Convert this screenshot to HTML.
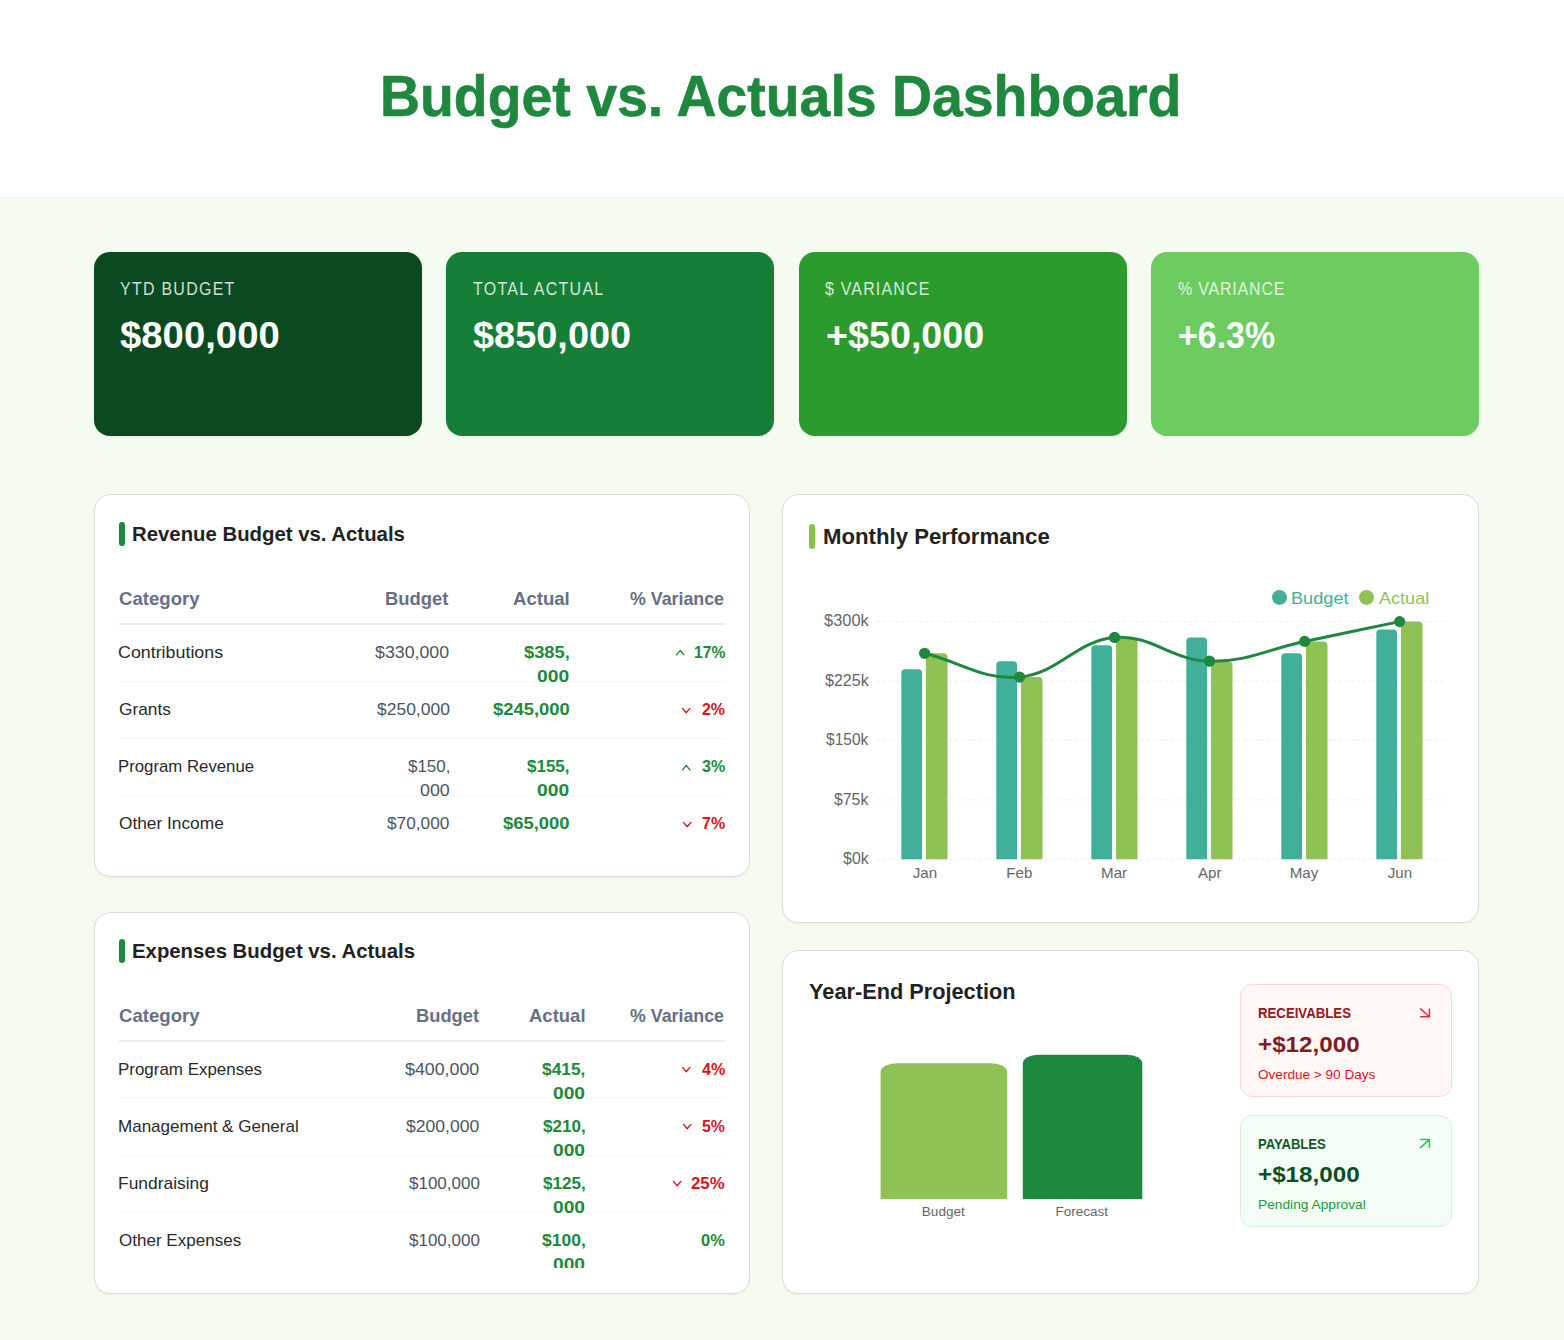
<!DOCTYPE html>
<html><head><meta charset="utf-8"><title>Budget vs. Actuals Dashboard</title>
<style>
html,body{margin:0;padding:0;width:1564px;height:1340px;overflow:hidden;background:#f6fbf1}
body{position:relative;font-family:"Liberation Sans",sans-serif}
.t{position:absolute;white-space:nowrap;line-height:0}
.b{position:absolute}
</style></head><body>
<div class="b" style="left:0.00px;top:0.00px;width:1564.00px;height:196.00px;background:#ffffff"></div>
<div class="b" style="left:0.00px;top:196.00px;width:1564.00px;height:1144.00px;background:#f6fbf1"></div>
<div class="t" style="left:380.19px;top:97.00px;font-size:56.69px;color:#1e883e;font-weight:bold;transform:scaleX(0.9772);transform-origin:0 0;-webkit-text-stroke:0.6px #1e883e;">Budget vs. Actuals Dashboard</div>
<div class="b" style="left:94.00px;top:251.90px;width:327.70px;height:183.90px;background:#0b4a20;border-radius:16px;box-shadow:0 1px 3px rgba(0,0,0,0.06)"></div>
<div class="t" style="left:120.25px;top:289.00px;font-size:18.17px;letter-spacing:1.436px;color:rgba(255,255,255,0.82);font-weight:normal;transform:scaleX(0.8800);transform-origin:0 0;">YTD BUDGET</div>
<div class="t" style="left:120.39px;top:336.00px;font-size:36.05px;color:#ffffff;font-weight:bold;transform:scaleX(1.0627);transform-origin:0 0;">$800,000</div>
<div class="b" style="left:446.40px;top:251.90px;width:327.70px;height:183.90px;background:#157f37;border-radius:16px;box-shadow:0 1px 3px rgba(0,0,0,0.06)"></div>
<div class="t" style="left:472.84px;top:289.00px;font-size:18.17px;letter-spacing:1.471px;color:rgba(255,255,255,0.82);font-weight:normal;transform:scaleX(0.8800);transform-origin:0 0;">TOTAL ACTUAL</div>
<div class="t" style="left:473.10px;top:336.00px;font-size:36.05px;color:#ffffff;font-weight:bold;transform:scaleX(1.0519);transform-origin:0 0;">$850,000</div>
<div class="b" style="left:799.00px;top:251.90px;width:327.70px;height:183.90px;background:#2c9b2e;border-radius:16px;box-shadow:0 1px 3px rgba(0,0,0,0.06)"></div>
<div class="t" style="left:825.33px;top:289.00px;font-size:18.17px;letter-spacing:1.337px;color:rgba(255,255,255,0.82);font-weight:normal;transform:scaleX(0.8800);transform-origin:0 0;">$ VARIANCE</div>
<div class="t" style="left:825.92px;top:336.00px;font-size:36.05px;color:#ffffff;font-weight:bold;transform:scaleX(1.0454);transform-origin:0 0;">+$50,000</div>
<div class="b" style="left:1151.30px;top:251.90px;width:327.70px;height:183.90px;background:#6ccc5f;border-radius:16px;box-shadow:0 1px 3px rgba(0,0,0,0.06)"></div>
<div class="t" style="left:1178.43px;top:289.00px;font-size:18.17px;letter-spacing:0.917px;color:rgba(255,255,255,0.82);font-weight:normal;transform:scaleX(0.8800);transform-origin:0 0;">% VARIANCE</div>
<div class="t" style="left:1178.38px;top:336.00px;font-size:36.05px;color:#ffffff;font-weight:bold;transform:scaleX(0.9400);transform-origin:0 0;">+6.3%</div>
<div class="b" style="left:94.00px;top:494.20px;width:655.80px;height:383.30px;background:#fff;border:1px solid #d9e1d9;border-radius:16px;box-shadow:0 1px 2px rgba(0,0,0,0.05);box-sizing:border-box"></div>
<div class="b" style="left:94.00px;top:911.50px;width:655.80px;height:382.80px;background:#fff;border:1px solid #d9e1d9;border-radius:16px;box-shadow:0 1px 2px rgba(0,0,0,0.05);box-sizing:border-box"></div>
<div class="b" style="left:782.20px;top:494.20px;width:696.80px;height:428.80px;background:#fff;border:1px solid #d9e1d9;border-radius:16px;box-shadow:0 1px 2px rgba(0,0,0,0.05);box-sizing:border-box"></div>
<div class="b" style="left:782.20px;top:949.60px;width:696.80px;height:344.70px;background:#fff;border:1px solid #d9e1d9;border-radius:16px;box-shadow:0 1px 2px rgba(0,0,0,0.05);box-sizing:border-box"></div>
<div class="b" style="left:0;top:0;width:1564px;height:1340px">
<div class="b" style="left:119.00px;top:522.30px;width:6.00px;height:23.50px;background:#1e883e;border-radius:3px"></div>
<div class="t" style="left:131.94px;top:534.00px;font-size:20.64px;color:#222;font-weight:bold;transform:scaleX(0.9864);transform-origin:0 0;">Revenue Budget vs. Actuals</div>
<div class="t" style="left:119.04px;top:599.00px;font-size:18.17px;color:#667085;font-weight:bold;transform:scaleX(1.0243);transform-origin:0 0;">Category</div>
<div class="t" style="left:385.47px;top:599.00px;font-size:18.17px;color:#667085;font-weight:bold;transform:scaleX(1.0142);transform-origin:0 0;">Budget</div>
<div class="t" style="left:513.14px;top:599.00px;font-size:18.17px;color:#667085;font-weight:bold;transform:scaleX(1.0225);transform-origin:0 0;">Actual</div>
<div class="t" style="left:630.16px;top:599.00px;font-size:18.17px;color:#667085;font-weight:bold;transform:scaleX(0.9804);transform-origin:0 0;">% Variance</div>
<div class="b" style="left:119.00px;top:623.00px;width:606.00px;height:2.00px;background:#e9eef0"></div>
<div class="b" style="left:119.00px;top:680.60px;width:606.00px;height:1.00px;background:#f5f6f7"></div>
<div class="b" style="left:119.00px;top:737.70px;width:606.00px;height:1.00px;background:#f5f6f7"></div>
<div class="b" style="left:119.00px;top:794.80px;width:606.00px;height:1.00px;background:#f5f6f7"></div>
<div class="t" style="left:118.49px;top:653.00px;font-size:17.01px;color:#2a2a2a;font-weight:normal;transform:scaleX(1.0494);transform-origin:0 0;">Contributions</div>
<div class="t" style="left:375.31px;top:653.00px;font-size:17.01px;color:#4b5563;font-weight:normal;transform:scaleX(1.0445);transform-origin:0 0;">$330,000</div>
<div class="t" style="left:523.96px;top:652.00px;font-size:17.30px;color:#1b8a3a;font-weight:bold;transform:scaleX(1.0597);transform-origin:0 0;">$385,</div>
<div class="t" style="left:537.24px;top:676.00px;font-size:17.30px;color:#1b8a3a;font-weight:bold;transform:scaleX(1.1141);transform-origin:0 0;">000</div>
<div class="t" style="left:693.62px;top:652.00px;font-size:17.30px;color:#1b8a3a;font-weight:bold;transform:scaleX(0.9041);transform-origin:0 0;">17%</div>
<svg class="b" style="left:675.10px;top:649.40px" width="11" height="7" viewBox="0 0 11 7"><path d="M1.5 5.90 L5.2 1.50 L8.9 5.90" fill="none" stroke="#1b8a3a" stroke-width="1.35" stroke-linecap="round" stroke-linejoin="round"/></svg>
<div class="t" style="left:118.53px;top:710.00px;font-size:17.01px;color:#2a2a2a;font-weight:normal;transform:scaleX(1.0168);transform-origin:0 0;">Grants</div>
<div class="t" style="left:376.51px;top:710.00px;font-size:17.01px;color:#4b5563;font-weight:normal;transform:scaleX(1.0273);transform-origin:0 0;">$250,000</div>
<div class="t" style="left:492.56px;top:709.00px;font-size:17.30px;color:#1b8a3a;font-weight:bold;transform:scaleX(1.0645);transform-origin:0 0;">$245,000</div>
<div class="t" style="left:701.85px;top:709.00px;font-size:17.30px;color:#e0111b;font-weight:bold;transform:scaleX(0.9230);transform-origin:0 0;">2%</div>
<svg class="b" style="left:681.10px;top:706.50px" width="11" height="7" viewBox="0 0 11 7"><path d="M1.5 1.40 L5.2 5.80 L8.9 1.40" fill="none" stroke="#e0111b" stroke-width="1.35" stroke-linecap="round" stroke-linejoin="round"/></svg>
<div class="t" style="left:118.02px;top:767.00px;font-size:17.01px;color:#2a2a2a;font-weight:normal;transform:scaleX(0.9863);transform-origin:0 0;">Program Revenue</div>
<div class="t" style="left:407.82px;top:767.00px;font-size:17.01px;color:#4b5563;font-weight:normal;transform:scaleX(0.9964);transform-origin:0 0;">$150,</div>
<div class="t" style="left:419.60px;top:791.00px;font-size:17.01px;color:#4b5563;font-weight:normal;transform:scaleX(1.0501);transform-origin:0 0;">000</div>
<div class="t" style="left:527.18px;top:766.00px;font-size:17.30px;color:#1b8a3a;font-weight:bold;transform:scaleX(0.9833);transform-origin:0 0;">$155,</div>
<div class="t" style="left:537.24px;top:790.00px;font-size:17.30px;color:#1b8a3a;font-weight:bold;transform:scaleX(1.1141);transform-origin:0 0;">000</div>
<div class="t" style="left:701.73px;top:766.00px;font-size:17.30px;color:#1b8a3a;font-weight:bold;transform:scaleX(0.9277);transform-origin:0 0;">3%</div>
<svg class="b" style="left:681.10px;top:763.60px" width="11" height="7" viewBox="0 0 11 7"><path d="M1.5 5.90 L5.2 1.50 L8.9 5.90" fill="none" stroke="#1b8a3a" stroke-width="1.35" stroke-linecap="round" stroke-linejoin="round"/></svg>
<div class="t" style="left:118.58px;top:824.00px;font-size:17.01px;color:#2a2a2a;font-weight:normal;transform:scaleX(1.0171);transform-origin:0 0;">Other Income</div>
<div class="t" style="left:387.01px;top:824.00px;font-size:17.01px;color:#4b5563;font-weight:normal;transform:scaleX(1.0144);transform-origin:0 0;">$70,000</div>
<div class="t" style="left:502.76px;top:823.00px;font-size:17.30px;color:#1b8a3a;font-weight:bold;transform:scaleX(1.0652);transform-origin:0 0;">$65,000</div>
<div class="t" style="left:701.71px;top:823.00px;font-size:17.30px;color:#e0111b;font-weight:bold;transform:scaleX(0.9286);transform-origin:0 0;">7%</div>
<svg class="b" style="left:681.60px;top:820.70px" width="11" height="7" viewBox="0 0 11 7"><path d="M1.5 1.40 L5.2 5.80 L8.9 1.40" fill="none" stroke="#e0111b" stroke-width="1.35" stroke-linecap="round" stroke-linejoin="round"/></svg>
</div>
<div class="b" style="left:0;top:0;width:1564px;height:1268.2px;overflow:hidden">
<div class="b" style="left:119.00px;top:939.10px;width:6.00px;height:23.50px;background:#1e883e;border-radius:3px"></div>
<div class="t" style="left:131.94px;top:951.00px;font-size:20.64px;color:#222;font-weight:bold;transform:scaleX(0.9861);transform-origin:0 0;">Expenses Budget vs. Actuals</div>
<div class="t" style="left:119.04px;top:1016.00px;font-size:18.17px;color:#667085;font-weight:bold;transform:scaleX(1.0243);transform-origin:0 0;">Category</div>
<div class="t" style="left:415.87px;top:1016.00px;font-size:18.17px;color:#667085;font-weight:bold;transform:scaleX(1.0093);transform-origin:0 0;">Budget</div>
<div class="t" style="left:529.14px;top:1016.00px;font-size:18.17px;color:#667085;font-weight:bold;transform:scaleX(1.0188);transform-origin:0 0;">Actual</div>
<div class="t" style="left:630.16px;top:1016.00px;font-size:18.17px;color:#667085;font-weight:bold;transform:scaleX(0.9804);transform-origin:0 0;">% Variance</div>
<div class="b" style="left:119.00px;top:1039.80px;width:606.00px;height:2.00px;background:#e9eef0"></div>
<div class="b" style="left:119.00px;top:1097.40px;width:606.00px;height:1.00px;background:#f5f6f7"></div>
<div class="b" style="left:119.00px;top:1154.50px;width:606.00px;height:1.00px;background:#f5f6f7"></div>
<div class="b" style="left:119.00px;top:1211.60px;width:606.00px;height:1.00px;background:#f5f6f7"></div>
<div class="t" style="left:118.01px;top:1070.00px;font-size:17.01px;color:#2a2a2a;font-weight:normal;transform:scaleX(0.9964);transform-origin:0 0;">Program Expenses</div>
<div class="t" style="left:405.21px;top:1070.00px;font-size:17.01px;color:#4b5563;font-weight:normal;transform:scaleX(1.0473);transform-origin:0 0;">$400,000</div>
<div class="t" style="left:542.17px;top:1069.00px;font-size:17.30px;color:#1b8a3a;font-weight:bold;transform:scaleX(1.0024);transform-origin:0 0;">$415,</div>
<div class="t" style="left:553.14px;top:1093.00px;font-size:17.30px;color:#1b8a3a;font-weight:bold;transform:scaleX(1.1105);transform-origin:0 0;">000</div>
<div class="t" style="left:701.56px;top:1069.00px;font-size:17.30px;color:#e0111b;font-weight:bold;transform:scaleX(0.9349);transform-origin:0 0;">4%</div>
<svg class="b" style="left:680.60px;top:1066.20px" width="11" height="7" viewBox="0 0 11 7"><path d="M1.5 1.40 L5.2 5.80 L8.9 1.40" fill="none" stroke="#e0111b" stroke-width="1.35" stroke-linecap="round" stroke-linejoin="round"/></svg>
<div class="t" style="left:118.00px;top:1127.00px;font-size:17.01px;color:#2a2a2a;font-weight:normal;transform:scaleX(1.0015);transform-origin:0 0;">Management &amp; General</div>
<div class="t" style="left:406.21px;top:1127.00px;font-size:17.01px;color:#4b5563;font-weight:normal;transform:scaleX(1.0330);transform-origin:0 0;">$200,000</div>
<div class="t" style="left:542.77px;top:1126.00px;font-size:17.30px;color:#1b8a3a;font-weight:bold;transform:scaleX(0.9881);transform-origin:0 0;">$210,</div>
<div class="t" style="left:553.14px;top:1150.00px;font-size:17.30px;color:#1b8a3a;font-weight:bold;transform:scaleX(1.1105);transform-origin:0 0;">000</div>
<div class="t" style="left:701.91px;top:1126.00px;font-size:17.30px;color:#e0111b;font-weight:bold;transform:scaleX(0.9204);transform-origin:0 0;">5%</div>
<svg class="b" style="left:681.50px;top:1123.30px" width="11" height="7" viewBox="0 0 11 7"><path d="M1.5 1.40 L5.2 5.80 L8.9 1.40" fill="none" stroke="#e0111b" stroke-width="1.35" stroke-linecap="round" stroke-linejoin="round"/></svg>
<div class="t" style="left:117.97px;top:1184.00px;font-size:17.01px;color:#2a2a2a;font-weight:normal;transform:scaleX(1.0235);transform-origin:0 0;">Fundraising</div>
<div class="t" style="left:408.62px;top:1184.00px;font-size:17.01px;color:#4b5563;font-weight:normal;transform:scaleX(0.9988);transform-origin:0 0;">$100,000</div>
<div class="t" style="left:542.77px;top:1183.00px;font-size:17.30px;color:#1b8a3a;font-weight:bold;transform:scaleX(0.9881);transform-origin:0 0;">$125,</div>
<div class="t" style="left:553.14px;top:1207.00px;font-size:17.30px;color:#1b8a3a;font-weight:bold;transform:scaleX(1.1105);transform-origin:0 0;">000</div>
<div class="t" style="left:691.32px;top:1183.00px;font-size:17.30px;color:#e0111b;font-weight:bold;transform:scaleX(0.9713);transform-origin:0 0;">25%</div>
<svg class="b" style="left:671.50px;top:1180.40px" width="11" height="7" viewBox="0 0 11 7"><path d="M1.5 1.40 L5.2 5.80 L8.9 1.40" fill="none" stroke="#e0111b" stroke-width="1.35" stroke-linecap="round" stroke-linejoin="round"/></svg>
<div class="t" style="left:118.59px;top:1241.00px;font-size:17.01px;color:#2a2a2a;font-weight:normal;transform:scaleX(1.0023);transform-origin:0 0;">Other Expenses</div>
<div class="t" style="left:408.62px;top:1241.00px;font-size:17.01px;color:#4b5563;font-weight:normal;transform:scaleX(0.9988);transform-origin:0 0;">$100,000</div>
<div class="t" style="left:541.77px;top:1240.00px;font-size:17.30px;color:#1b8a3a;font-weight:bold;transform:scaleX(1.0120);transform-origin:0 0;">$100,</div>
<div class="t" style="left:553.14px;top:1264.00px;font-size:17.30px;color:#1b8a3a;font-weight:bold;transform:scaleX(1.1105);transform-origin:0 0;">000</div>
<div class="t" style="left:701.15px;top:1240.00px;font-size:17.30px;color:#1b8a3a;font-weight:bold;transform:scaleX(0.9514);transform-origin:0 0;">0%</div>
</div>
<div class="b" style="left:808.80px;top:524.00px;width:6.20px;height:24.80px;background:#8bc34a;border-radius:3px"></div>
<div class="t" style="left:822.52px;top:536.00px;font-size:22.67px;color:#222;font-weight:bold;transform:scaleX(0.9789);transform-origin:0 0;">Monthly Performance</div>
<div class="b" style="left:1272.1px;top:589.8px;width:14.8px;height:14.8px;border-radius:50%;background:#40b09b"></div>
<div class="t" style="left:1290.71px;top:599.00px;font-size:16.57px;color:#40b09b;font-weight:normal;transform:scaleX(1.0972);transform-origin:0 0;">Budget</div>
<div class="b" style="left:1359.4px;top:589.8px;width:14.8px;height:14.8px;border-radius:50%;background:#8fc255"></div>
<div class="t" style="left:1379.16px;top:599.00px;font-size:16.57px;color:#8fc255;font-weight:normal;transform:scaleX(1.0910);transform-origin:0 0;">Actual</div>
<svg class="b" style="left:0;top:0" width="1564" height="1340" viewBox="0 0 1564 1340">
<line x1="877" y1="621.60" x2="1447" y2="621.60" stroke="#eceef1" stroke-width="1" stroke-dasharray="3 3"/>
<line x1="877" y1="681.02" x2="1447" y2="681.02" stroke="#eceef1" stroke-width="1" stroke-dasharray="3 3"/>
<line x1="877" y1="740.45" x2="1447" y2="740.45" stroke="#eceef1" stroke-width="1" stroke-dasharray="3 3"/>
<line x1="877" y1="799.88" x2="1447" y2="799.88" stroke="#eceef1" stroke-width="1" stroke-dasharray="3 3"/>
<line x1="877" y1="859.30" x2="1447" y2="859.30" stroke="#eceef1" stroke-width="1" stroke-dasharray="3 3"/>
<path d="M901.30 859.30 V673.14 Q901.30 669.14 905.30 669.14 H918.10 Q922.10 669.14 922.10 673.14 V859.30 Z" fill="#40b09b"/>
<path d="M925.90 859.30 V657.29 Q925.90 653.29 929.90 653.29 H943.50 Q947.50 653.29 947.50 657.29 V859.30 Z" fill="#8fc255"/>
<path d="M996.30 859.30 V665.22 Q996.30 661.22 1000.30 661.22 H1013.10 Q1017.10 661.22 1017.10 665.22 V859.30 Z" fill="#40b09b"/>
<path d="M1020.90 859.30 V681.06 Q1020.90 677.06 1024.90 677.06 H1038.50 Q1042.50 677.06 1042.50 681.06 V859.30 Z" fill="#8fc255"/>
<path d="M1091.30 859.30 V649.37 Q1091.30 645.37 1095.30 645.37 H1108.10 Q1112.10 645.37 1112.10 649.37 V859.30 Z" fill="#40b09b"/>
<path d="M1115.90 859.30 V641.45 Q1115.90 637.45 1119.90 637.45 H1133.50 Q1137.50 637.45 1137.50 641.45 V859.30 Z" fill="#8fc255"/>
<path d="M1186.30 859.30 V641.45 Q1186.30 637.45 1190.30 637.45 H1203.10 Q1207.10 637.45 1207.10 641.45 V859.30 Z" fill="#40b09b"/>
<path d="M1210.90 859.30 V665.22 Q1210.90 661.22 1214.90 661.22 H1228.50 Q1232.50 661.22 1232.50 665.22 V859.30 Z" fill="#8fc255"/>
<path d="M1281.30 859.30 V657.29 Q1281.30 653.29 1285.30 653.29 H1298.10 Q1302.10 653.29 1302.10 657.29 V859.30 Z" fill="#40b09b"/>
<path d="M1305.90 859.30 V645.41 Q1305.90 641.41 1309.90 641.41 H1323.50 Q1327.50 641.41 1327.50 645.41 V859.30 Z" fill="#8fc255"/>
<path d="M1376.30 859.30 V633.52 Q1376.30 629.52 1380.30 629.52 H1393.10 Q1397.10 629.52 1397.10 633.52 V859.30 Z" fill="#40b09b"/>
<path d="M1400.90 859.30 V625.60 Q1400.90 621.60 1404.90 621.60 H1418.50 Q1422.50 621.60 1422.50 625.60 V859.30 Z" fill="#8fc255"/>
<path d="M924.60 653.29 C962.60 662.80 982.55 680.15 1019.60 677.06 C1058.55 673.82 1075.65 640.69 1114.60 637.45 C1151.65 634.36 1171.43 660.42 1209.60 661.22 C1247.43 662.01 1266.60 649.33 1304.60 641.41 C1342.60 633.49 1361.60 629.52 1399.60 621.60" fill="none" stroke="#1e883e" stroke-width="3" stroke-linecap="round"/>
<circle cx="924.60" cy="653.29" r="5.6" fill="#1e883e"/>
<circle cx="1019.60" cy="677.06" r="5.6" fill="#1e883e"/>
<circle cx="1114.60" cy="637.45" r="5.6" fill="#1e883e"/>
<circle cx="1209.60" cy="661.22" r="5.6" fill="#1e883e"/>
<circle cx="1304.60" cy="641.41" r="5.6" fill="#1e883e"/>
<circle cx="1399.60" cy="621.60" r="5.6" fill="#1e883e"/>
<path d="M880.6 1199 V1072.2 A16 9 0 0 1 896.6 1063.2 H991.2 A16 9 0 0 1 1007.2 1072.2 V1199 Z" fill="#8fc255"/>
<path d="M1022.8 1199 V1063.7 A15 9 0 0 1 1037.8 1054.7 H1127.3 A15 9 0 0 1 1142.3 1063.7 V1199 Z" fill="#1e883e"/>
</svg>
<div class="t" style="left:824.02px;top:621.00px;font-size:15.70px;color:#666;font-weight:normal;transform:scaleX(1.0463);transform-origin:0 0;">$300k</div>
<div class="t" style="left:825.03px;top:681.00px;font-size:15.70px;color:#666;font-weight:normal;transform:scaleX(1.0229);transform-origin:0 0;">$225k</div>
<div class="t" style="left:826.43px;top:740.00px;font-size:15.70px;color:#666;font-weight:normal;transform:scaleX(0.9900);transform-origin:0 0;">$150k</div>
<div class="t" style="left:834.43px;top:800.00px;font-size:15.70px;color:#666;font-weight:normal;transform:scaleX(1.0090);transform-origin:0 0;">$75k</div>
<div class="t" style="left:843.03px;top:859.00px;font-size:15.70px;color:#666;font-weight:normal;transform:scaleX(1.0173);transform-origin:0 0;">$0k</div>
<div class="t" style="left:912.79px;top:873.00px;font-size:15.12px;color:#666;font-weight:normal;">Jan</div>
<div class="t" style="left:1006.27px;top:873.00px;font-size:15.12px;color:#666;font-weight:normal;">Feb</div>
<div class="t" style="left:1101.09px;top:873.00px;font-size:15.12px;color:#666;font-weight:normal;">Mar</div>
<div class="t" style="left:1197.95px;top:873.00px;font-size:15.12px;color:#666;font-weight:normal;">Apr</div>
<div class="t" style="left:1289.72px;top:873.00px;font-size:15.12px;color:#666;font-weight:normal;">May</div>
<div class="t" style="left:1387.79px;top:873.00px;font-size:15.12px;color:#666;font-weight:normal;">Jun</div>
<div class="t" style="left:808.83px;top:991.00px;font-size:22.82px;color:#222;font-weight:bold;transform:scaleX(0.9524);transform-origin:0 0;">Year-End Projection</div>
<div class="t" style="left:921.87px;top:1212.00px;font-size:13.52px;color:#666;font-weight:normal;">Budget</div>
<div class="t" style="left:1055.50px;top:1212.00px;font-size:13.52px;color:#666;font-weight:normal;">Forecast</div>
<div class="b" style="left:1240.00px;top:984.10px;width:212.00px;height:112.90px;background:#fff6f6;border:1px solid #fbd9d9;border-radius:12px;box-sizing:border-box"></div>
<div class="t" style="left:1257.82px;top:1013.00px;font-size:15.12px;color:#9b1420;font-weight:bold;transform:scaleX(0.8743);transform-origin:0 0;">RECEIVABLES</div>
<div class="t" style="left:1258.38px;top:1045.00px;font-size:22.38px;color:#7f1d1d;font-weight:bold;transform:scaleX(1.0822);transform-origin:0 0;">+$12,000</div>
<div class="t" style="left:1258.06px;top:1075.00px;font-size:12.94px;color:#e0111b;font-weight:normal;transform:scaleX(1.0494);transform-origin:0 0;">Overdue &gt; 90 Days</div>
<svg class="b" style="left:0;top:0" width="1564" height="1340"><path d="M1420.6 1008.9 L1429.4 1016.7 M1429.4 1008.9 V1016.7 H1420.6" fill="none" stroke="#ea2a3c" stroke-width="1.5" stroke-linecap="round" stroke-linejoin="round"/></svg>
<div class="b" style="left:1240.00px;top:1114.60px;width:212.00px;height:112.80px;background:#f4fcf6;border:1px solid #d4f3dc;border-radius:12px;box-sizing:border-box"></div>
<div class="t" style="left:1257.83px;top:1144.00px;font-size:15.12px;color:#0f5a2a;font-weight:bold;transform:scaleX(0.8648);transform-origin:0 0;">PAYABLES</div>
<div class="t" style="left:1258.38px;top:1175.00px;font-size:22.38px;color:#0b4f24;font-weight:bold;transform:scaleX(1.0822);transform-origin:0 0;">+$18,000</div>
<div class="t" style="left:1257.57px;top:1205.00px;font-size:12.94px;color:#16a03c;font-weight:normal;transform:scaleX(1.0629);transform-origin:0 0;">Pending Approval</div>
<svg class="b" style="left:0;top:0" width="1564" height="1340"><path d="M1420.6 1147.6 L1429.4 1139.4 M1420.6 1139.4 H1429.4 V1147.6" fill="none" stroke="#22c55e" stroke-width="1.5" stroke-linecap="round" stroke-linejoin="round"/></svg>
</body></html>
